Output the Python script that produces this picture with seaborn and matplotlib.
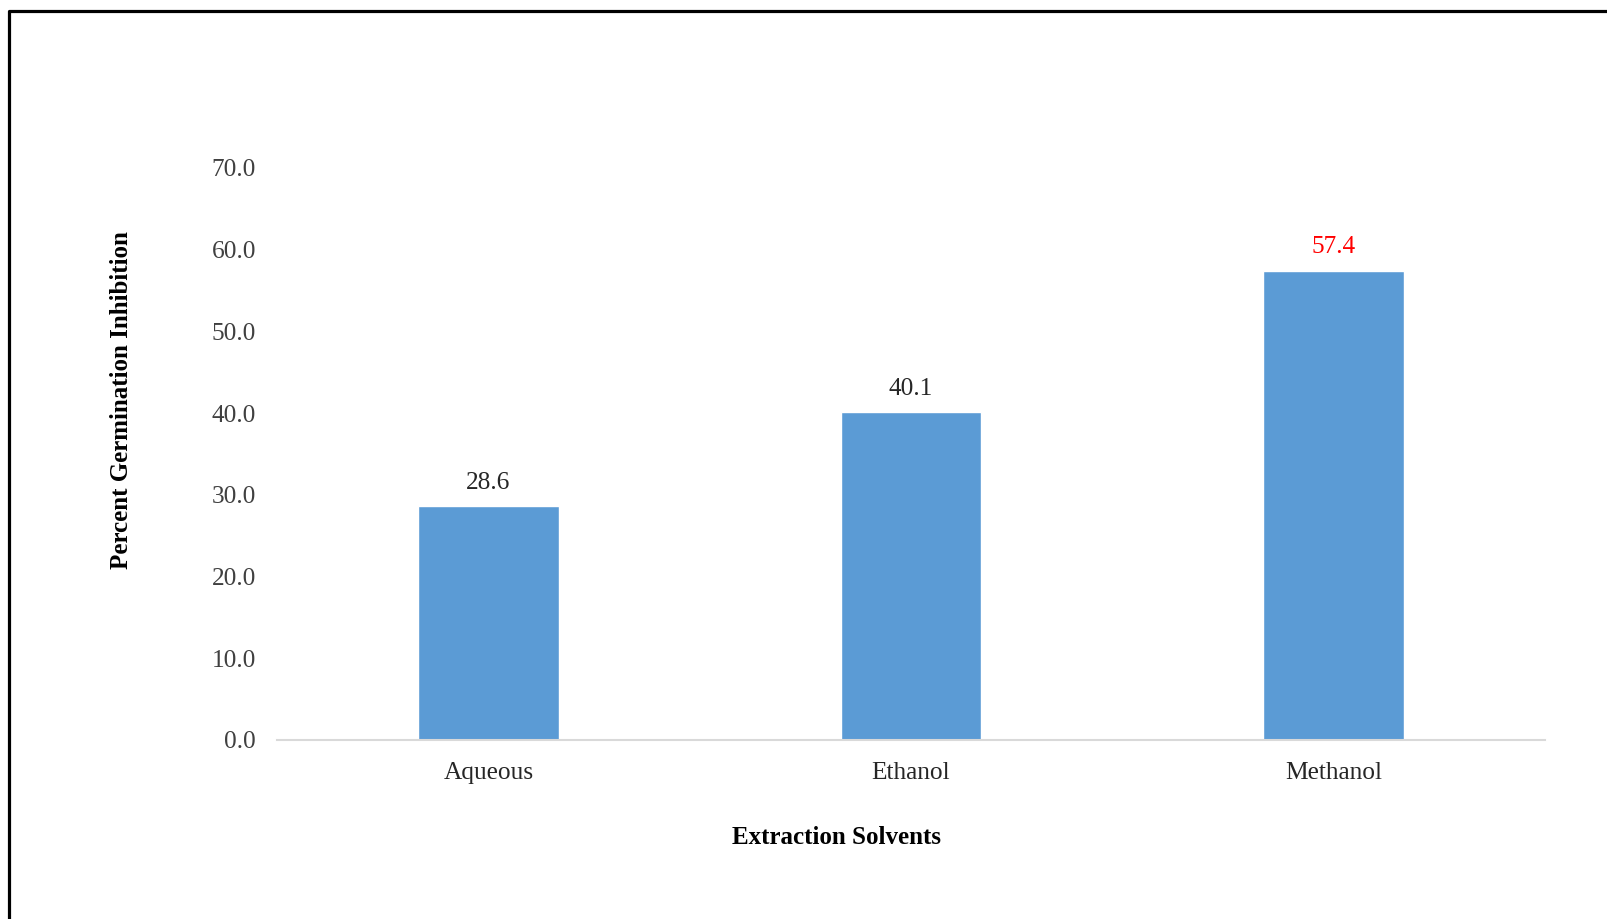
import matplotlib
matplotlib.use("Agg")
import matplotlib.pyplot as plt
from matplotlib.lines import Line2D
import seaborn as sns
import pandas as pd

# Germination inhibition by extraction solvent
solvents = ["Aqueous", "Ethanol", "Methanol"]
inhibition = [28.6, 40.1, 57.4]
label_colors = ["#262626", "#262626", "#FF0000"]
y_ticks = [0, 10, 20, 30, 40, 50, 60, 70]

sns.set_theme(style="white")
plt.rcParams["font.family"] = ["Liberation Serif", "DejaVu Serif"]

df = pd.DataFrame({"Solvent": solvents, "Inhibition": inhibition})

fig = plt.figure(figsize=(16.08, 9.19), dpi=100)
ax = fig.add_axes([0.1723, 0.1948, 0.7885, 0.6224])

sns.barplot(data=df, x="Solvent", y="Inhibition", color="#5B9BD5",
            saturation=1, width=1/3, ax=ax)

ax.set_xlim(-0.5, len(solvents) - 0.5)
ax.set_ylim(0, 70)
ax.set_yticks(y_ticks)
ax.set_yticklabels([f"{v:.1f}" for v in y_ticks])

for side in ["top", "right", "left"]:
    ax.spines[side].set_visible(False)
ax.spines["bottom"].set_color("#D9D9D9")
ax.spines["bottom"].set_linewidth(1.5)

ax.tick_params(axis="y", length=0, pad=15, labelsize=18.3, labelcolor="#404040")
ax.tick_params(axis="x", length=0, pad=16, labelsize=18.3, labelcolor="#262626")

# value labels above each bar
for i, (v, c) in enumerate(zip(inhibition, label_colors)):
    ax.annotate(f"{v:.1f}", xy=(i, v), xytext=(0, 9), textcoords="offset points",
                ha="center", va="bottom", fontsize=18.3, color=c)

ax.set_xlabel("Extraction Solvents", fontsize=18, fontweight="bold", color="#000000")
ax.set_ylabel("Percent Germination Inhibition", fontsize=18, fontweight="bold",
              color="#000000")
ax.xaxis.set_label_coords(0.441, -0.150)
ax.yaxis.set_label_coords(-0.1136, 0.594)

# outer frame (left and top edges)
fig.add_artist(Line2D([9 / 1608, 9 / 1608, 1.0], [0.0, 1 - 11 / 919, 1 - 11 / 919],
                      transform=fig.transFigure, color="black", linewidth=2.3))

fig.savefig("out.png", dpi=100, facecolor="white")
